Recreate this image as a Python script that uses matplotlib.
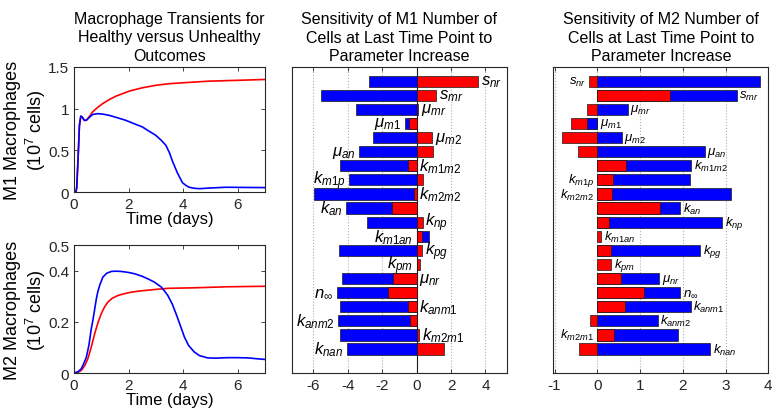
import numpy as np
import matplotlib
matplotlib.use('Agg')
import matplotlib.pyplot as plt

plt.rcParams['font.family'] = ['Liberation Sans', 'DejaVu Sans']
plt.rcParams['mathtext.fontset'] = 'custom'
plt.rcParams['mathtext.it'] = 'Liberation Sans:italic'
plt.rcParams['mathtext.rm'] = 'Liberation Sans'
plt.rcParams['mathtext.default'] = 'it'
plt.rcParams['axes.unicode_minus'] = False

# transients (time in days, cells in 1e7)
t_m1_red = [0, 0.07, 0.1, 0.15, 0.2, 0.25, 0.3, 0.38, 0.45, 0.55, 0.68, 0.85, 1.05, 1.3, 1.54,
            2.02, 2.5, 3.0, 3.5, 3.98, 4.95, 6.0, 7.0]
m1_red = [0, 0, 0.05, 0.4, 0.8, 0.91, 0.9, 0.86, 0.86, 0.9, 0.96, 1.01, 1.06, 1.11, 1.15,
          1.21, 1.25, 1.28, 1.3, 1.31, 1.33, 1.34, 1.35]
t_m1_blue = [0, 0.07, 0.1, 0.15, 0.2, 0.25, 0.3, 0.38, 0.45, 0.55, 0.68, 0.87, 1.05, 1.29, 1.6,
             1.9, 2.2, 2.51, 2.75, 3.0, 3.2, 3.37, 3.5, 3.61, 3.7, 3.79, 3.9, 3.98, 4.1, 4.22,
             4.4, 4.59, 5.0, 5.56, 6.2, 7.0]
m1_blue = [0, 0, 0.05, 0.4, 0.8, 0.91, 0.9, 0.86, 0.86, 0.89, 0.93, 0.94, 0.935, 0.92, 0.89,
           0.86, 0.82, 0.78, 0.73, 0.68, 0.62, 0.56, 0.47, 0.37, 0.3, 0.23, 0.16, 0.11, 0.08, 0.057,
           0.045, 0.04, 0.048, 0.057, 0.055, 0.053]

t_m2_blue = [0, 0.15, 0.27, 0.35, 0.45, 0.55, 0.63, 0.7, 0.76, 0.82, 0.88, 0.95, 1.06, 1.2, 1.37,
             1.55, 1.73, 2.0, 2.22, 2.5, 2.71, 2.95, 3.2, 3.32, 3.44, 3.6, 3.74, 3.9, 4.05, 4.2,
             4.41, 4.6, 4.9, 5.2, 5.63, 6.0, 6.37, 7.0]
m2_blue = [0, 0.005, 0.017, 0.035, 0.06, 0.11, 0.17, 0.21, 0.25, 0.29, 0.32, 0.345, 0.375, 0.39, 0.397,
           0.398, 0.397, 0.393, 0.388, 0.378, 0.368, 0.355, 0.336, 0.32, 0.303, 0.27, 0.232, 0.185, 0.14, 0.108,
           0.082, 0.068, 0.059, 0.058, 0.06, 0.06, 0.059, 0.053]
t_m2_red = [0, 0.15, 0.27, 0.4, 0.51, 0.63, 0.76, 0.88, 1.0, 1.12, 1.24, 1.4, 1.61, 1.85, 2.1,
            2.45, 2.83, 3.44, 4.41, 5.6, 7.0]
m2_red = [0, 0.003, 0.01, 0.03, 0.056, 0.1, 0.154, 0.197, 0.232, 0.258, 0.277, 0.292, 0.303, 0.31, 0.316,
          0.321, 0.325, 0.331, 0.333, 0.337, 0.339]

# sensitivities
params = [r'$s_{nr}$', r'$s_{mr}$', r'$\mu_{mr}$', r'$\mu_{m1}$', r'$\mu_{m2}$', r'$\mu_{an}$',
          r'$k_{m1m2}$', r'$k_{m1p}$', r'$k_{m2m2}$', r'$k_{an}$', r'$k_{np}$', r'$k_{m1an}$',
          r'$k_{pg}$', r'$k_{pm}$', r'$\mu_{nr}$', r'$n_{\infty}$', r'$k_{anm1}$', r'$k_{anm2}$',
          r'$k_{m2m1}$', r'$k_{nan}$']
m1_blue_sens = [-2.75, -5.56, -3.53, -0.68, -2.52, -3.35, -4.46, -3.93, -5.97, -4.11,
                -2.89, 0.70, -4.5, 0.0, -4.36, -4.65, -4.48, -4.57, -4.44, -4.07]
m1_red_sens = [3.59, 1.12, 0.1, -0.43, 0.89, 0.95, -0.48, 0.39, -0.16, -1.41,
               0.35, 0.31, 0.33, 0.21, -1.36, -1.69, -0.5, -0.37, 0.14, 1.59]
m1_side = ['R', 'R', 'R', 'L', 'R', 'L', 'R', 'L', 'R', 'L',
           'R', 'L', 'R', 'L', 'R', 'L', 'R', 'L', 'R', 'L']
m2_blue_sens = [3.8, 3.26, 0.71, -0.23, 0.57, 2.51, 2.19, 2.16, 3.12, 1.93,
                2.92, 0.0, 2.40, 0.0, 1.44, 1.94, 2.18, 1.41, 1.89, 2.64]
m2_red_sens = [-0.19, 1.71, -0.24, -0.61, -0.82, -0.46, 0.66, 0.37, 0.35, 1.47,
               0.28, 0.09, 0.33, 0.33, 0.56, 1.09, 0.65, -0.16, 0.40, -0.43]
m2_side = ['L', 'R', 'R', 'R', 'R', 'R', 'R', 'L', 'L', 'R',
           'R', 'R', 'R', 'R', 'R', 'R', 'R', 'R', 'L', 'R']

BLUE = '#0000ff'
RED = '#ff0000'
FS = 11


def style_axes(ax):
    ax.tick_params(direction='in', top=True, right=True, labelsize=FS, length=3, width=0.6,
                   colors='#262626')
    for s in ax.spines.values():
        s.set_linewidth(0.8)
        s.set_color('#262626')


def sens_panel(ax, blue, red, side, xlim, xticks, title, lab_fs):
    pos = np.arange(1, len(params) + 1)
    for i in range(len(params)):
        # longer bar first so the shorter one stays visible on top
        bars = sorted([(blue[i], BLUE), (red[i], RED)], key=lambda b: -abs(b[0]))
        for v, c in bars:
            if v == 0:
                continue
            ax.barh(pos[i], v, height=0.8, color=c, edgecolor='#1a1a1a', linewidth=0.5, zorder=3)
        if side[i] == 'R':
            x0 = max(0, blue[i], red[i])
            ax.annotate(params[i], (x0, pos[i]), xytext=(2, 0), textcoords='offset points',
                        ha='left', va='center', fontsize=lab_fs, zorder=4)
        else:
            x0 = min(0, blue[i], red[i])
            ax.annotate(params[i], (x0, pos[i]), xytext=(-2.5, 0), textcoords='offset points',
                        ha='right', va='center', fontsize=lab_fs, zorder=4)
    ax.set_xlim(*xlim)
    ax.set_ylim(21.7, 0)
    ax.set_xticks(xticks)
    ax.set_yticks([])
    ax.grid(axis='x', linestyle=':', color='#b0b0b0', linewidth=0.8, zorder=0)
    style_axes(ax)
    ax.tick_params(axis='y', left=False, right=False)
    ax.set_title(title, fontsize=FS + 0.5, linespacing=1.3, pad=5)


fig = plt.figure(figsize=(7.77, 4.14), dpi=100)

ax1 = fig.add_axes([0.0952, 0.5338, 0.2458, 0.302])
ax1.plot(t_m1_red, m1_red, color=RED, lw=1.2)
ax1.plot(t_m1_blue, m1_blue, color=BLUE, lw=1.2)
ax1.set_xlim(0, 7)
ax1.set_ylim(0, 1.5)
ax1.set_xticks([0, 2, 4, 6])
ax1.set_yticks([0, 0.5, 1, 1.5])
ax1.set_yticklabels(['0', '0.5', '1', '1.5'])
ax1.set_xlabel('Time (days)', fontsize=12, labelpad=0)
ax1.set_ylabel('M1 Macrophages\n(10$^{\\mathregular{7}}$ cells)', fontsize=13, linespacing=1.15, labelpad=0)
ax1.set_title('Macrophage Transients for\nHealthy versus Unhealthy\nOutcomes',
              fontsize=FS + 0.5, linespacing=1.3, pad=5)
style_axes(ax1)

ax2 = fig.add_axes([0.0952, 0.0966, 0.2458, 0.309])
ax2.plot(t_m2_red, m2_red, color=RED, lw=1.2)
ax2.plot(t_m2_blue, m2_blue, color=BLUE, lw=1.2)
ax2.set_xlim(0, 7)
ax2.set_ylim(0, 0.5)
ax2.set_xticks([0, 2, 4, 6])
ax2.set_yticks([0, 0.2, 0.4, 0.5])
ax2.set_yticklabels(['0', '0.2', '0.4', '0.5'])
ax2.set_xlabel('Time (days)', fontsize=12, labelpad=0)
ax2.set_ylabel('M2 Macrophages\n(10$^{\\mathregular{7}}$ cells)', fontsize=13, linespacing=1.15, labelpad=0)
style_axes(ax2)

ax3 = fig.add_axes([0.3758, 0.0966, 0.2767, 0.739])
sens_panel(ax3, m1_blue_sens, m1_red_sens, m1_side, (-7.25, 5.25), [-6, -4, -2, 0, 2, 4],
           'Sensitivity of M1 Number of\nCells at Last Time Point to\nParameter Increase', 12)
ax3.axvline(0, color='#1a1a1a', lw=0.8, zorder=2)

ax4 = fig.add_axes([0.7121, 0.0966, 0.2767, 0.739])
sens_panel(ax4, m2_blue_sens, m2_red_sens, m2_side, (-1.03, 4.0), [-1, 0, 1, 2, 3, 4],
           'Sensitivity of M2 Number of\nCells at Last Time Point to\nParameter Increase', 9.5)

fig.savefig('out.png', dpi=100)
